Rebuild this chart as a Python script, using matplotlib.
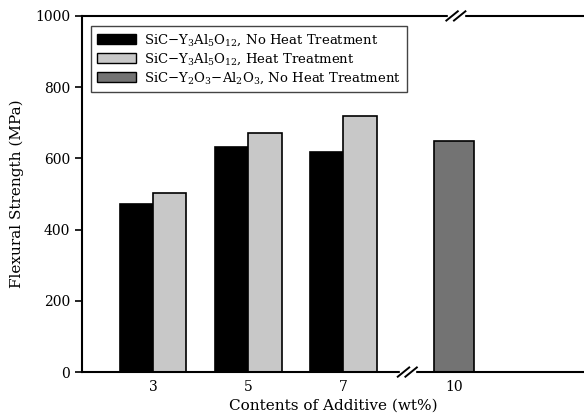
import matplotlib
matplotlib.use("Agg")
import matplotlib.pyplot as plt
from matplotlib.patches import Patch

plt.rcParams["font.family"] = "DejaVu Serif"
plt.rcParams["mathtext.fontset"] = "dejavuserif"

# data
categories = ["3", "5", "7", "10"]
no_heat = [472, 632, 618]
heat = [503, 671, 719]
oxide_no_heat = [649]

labels = [r"SiC$-$Y$_3$Al$_5$O$_{12}$, No Heat Treatment",
          r"SiC$-$Y$_3$Al$_5$O$_{12}$, Heat Treatment",
          r"SiC$-$Y$_2$O$_3$$-$Al$_2$O$_3$, No Heat Treatment"]

pos = [0, 1, 2, 3.16]
w = 0.35

fig = plt.figure(figsize=(5.84, 4.19), dpi=100)
ax = fig.add_axes([0.140, 0.112, 0.862, 0.850])

ax.bar([p - w / 2 for p in pos[:3]], no_heat, width=w, color="black",
       edgecolor="black", linewidth=1.2)
ax.bar([p + w / 2 for p in pos[:3]], heat, width=w, color="#c8c8c8",
       edgecolor="black", linewidth=1.2)
ax.bar(pos[3:], oxide_no_heat, width=0.42, color="#737373",
       edgecolor="black", linewidth=1.2)

ax.set_xlim(-0.747, 4.537)
ax.set_ylim(0, 1000)
ax.set_xticks(pos)
ax.set_xticklabels(categories)
ax.set_yticks([0, 200, 400, 600, 800, 1000])
ax.tick_params(axis="x", length=0, pad=6, labelsize=10)
ax.tick_params(axis="y", direction="out", length=5, width=1.2, labelsize=10)

for s in ["left", "bottom", "top"]:
    ax.spines[s].set_linewidth(1.5)
ax.spines["right"].set_visible(False)

ax.set_ylabel("Flexural Strength (MPa)", fontsize=11, labelpad=8)
ax.set_xlabel("Contents of Additive (wt%)", fontsize=11, labelpad=3)

# axis break marks
def brk(xc, yc):
    ax.fill_between([xc - 0.08, xc + 0.08], yc - 6, yc + 6, color="white",
                    transform=ax.transData, clip_on=False, zorder=5)
    for dx in (-0.04, 0.04):
        ax.plot([xc + dx - 0.06, xc + dx + 0.06], [yc - 13, yc + 13],
                color="black", lw=1.4, clip_on=False, zorder=6)

brk(2.67, 0)
brk(3.18, 1000)

handles = [Patch(facecolor="black", edgecolor="black"),
           Patch(facecolor="#c8c8c8", edgecolor="black"),
           Patch(facecolor="#737373", edgecolor="black")]
leg = ax.legend(handles, labels, loc="upper left", bbox_to_anchor=(0.005, 0.99),
                fontsize=9.5, fancybox=False, edgecolor="#444444",
                framealpha=1, handlelength=2.9, handleheight=0.8,
                borderpad=0.5, labelspacing=0.25, handletextpad=0.6)
leg.get_frame().set_linewidth(1.0)

fig.savefig("out.png", dpi=100)
